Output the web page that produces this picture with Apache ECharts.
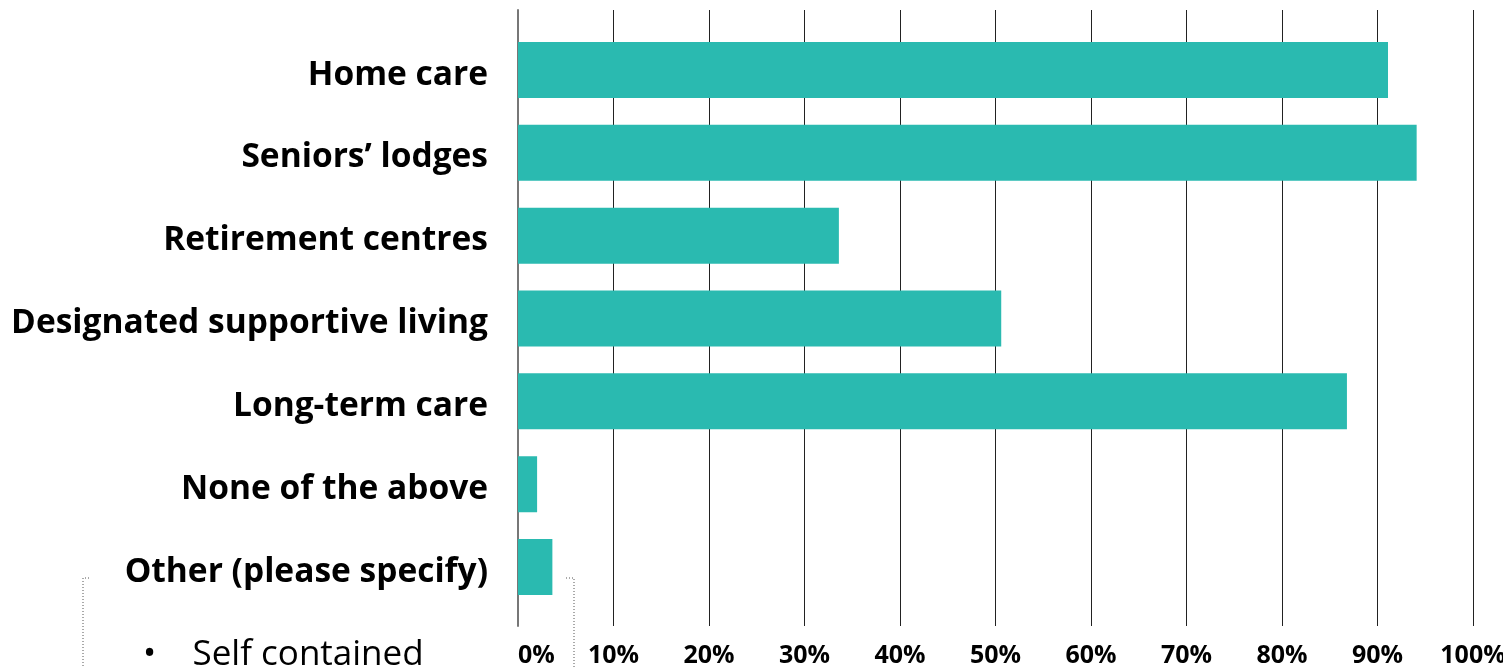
<!DOCTYPE html>
<html>
<head>
<meta charset="utf-8">
<style>
  html, body { margin: 0; padding: 0; background: #fff; }
  #chart { width: 1503px; height: 668px; }
</style>
<script src="https://cdn.jsdelivr.net/npm/echarts@6/dist/echarts.min.js"></script>
</head>
<body>
<div id="chart"></div>
<script>
// survey answers, share of respondents (%)
const categories = [
    "Home care",
    "Seniors\u2019 lodges",
    "Retirement centres",
    "Designated supportive living",
    "Long-term care",
    "None of the above",
    "Other (please specify)",
];
const values = [91.1, 94.1, 33.6, 50.6, 86.8, 2.0, 3.6];
const tickStep = 10;

const chart = echarts.init(document.getElementById("chart"), null, { renderer: "canvas" });
const font = "'Open Sans', Lato, sans-serif";

chart.setOption({
    animation: false,
    grid: [
        // background grid: vertical lines + % labels
        { left: 518, right: 30, top: 10, bottom: 42, outerBoundsMode: "none", containLabel: false },
        // bars
        { left: 518, right: 30, top: 28.6, bottom: 59.6, outerBoundsMode: "none", containLabel: false },
    ],
    xAxis: [
        {
            gridIndex: 0,
            type: "value",
            min: 0,
            max: 100,
            interval: tickStep,
            axisLine: { show: false },
            axisTick: { show: false },
            splitLine: { lineStyle: { color: "#222", width: 1 } },
            axisLabel: {
                formatter: "{value}%",
                margin: 17,
                fontFamily: font,
                fontWeight: "bold",
                fontSize: 25,
                color: "#000",
                alignMinLabel: "left",
            },
        },
        {
            gridIndex: 1,
            type: "value",
            min: 0,
            max: 100,
            show: false,
        },
    ],
    yAxis: [
        {
            gridIndex: 0,
            type: "value",
            min: 0,
            max: 1,
            axisLine: { show: true, lineStyle: { color: "#777", width: 2 } },
            axisTick: { show: false },
            axisLabel: { show: false },
            splitLine: { show: false },
        },
        {
            gridIndex: 1,
            type: "category",
            inverse: true,
            data: categories,
            axisLine: { show: false },
            axisTick: { show: false },
            axisLabel: {
                margin: 30,
                formatter: (v) => "{a|" + v + "}",
                rich: {
                    a: {
                        fontFamily: font,
                        fontWeight: "bold",
                        fontSize: 33.5,
                        color: "#000",
                        padding: [10, 0, 0, 0],
                    },
                },
            },
        },
    ],
    series: [
        {
            type: "bar",
            xAxisIndex: 1,
            yAxisIndex: 1,
            data: values,
            barWidth: 56,
            itemStyle: { color: "#2abab0" },
            z: 3,
        },
    ],
    graphic: [
        {
            type: "polyline",
            shape: { points: [[89, 578], [83, 578], [83, 668]] },
            style: { stroke: "#555", lineWidth: 1, lineDash: [1, 2], fill: null },
        },
        {
            type: "polyline",
            shape: { points: [[566, 578], [574, 578], [574, 668]] },
            style: { stroke: "#555", lineWidth: 1, lineDash: [1, 2], fill: null },
        },
        {
            type: "text",
            left: 143,
            top: 638,
            style: {
                text: "\u2022    Self contained",
                font: "normal 35px " + font,
                fill: "#000",
            },
        },
    ],
});
</script>
</body>
</html>
